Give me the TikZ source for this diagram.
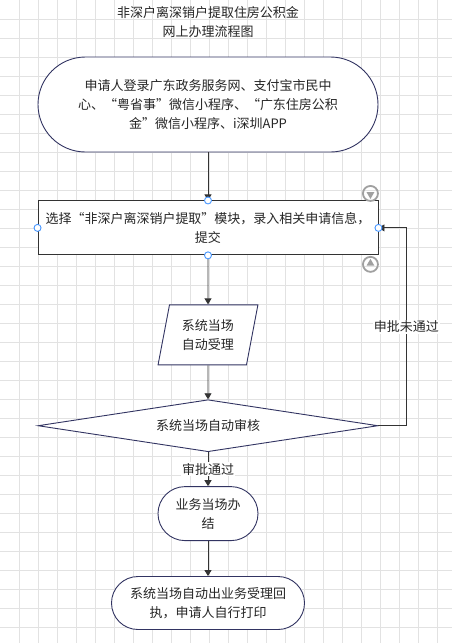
\documentclass[tikz,border=0pt]{standalone}
\usepackage{fontspec}
\setmainfont{Noto Sans CJK SC}
\usetikzlibrary{arrows.meta,shapes.geometric,positioning}
\definecolor{navyline}{RGB}{50,52,98}
\definecolor{boxline}{RGB}{51,51,51}
\definecolor{gridgray}{RGB}{226,226,226}
\definecolor{handleblue}{RGB}{70,150,255}
\definecolor{icongray}{RGB}{160,160,160}
\tikzset{
	every node/.style={
		font=\fontsize{13pt}{19pt}\selectfont,
		text=black!85
	},
	stadium/.style={
		shape=rectangle,
		draw=navyline,
		fill=white,
		align=center,
		inner sep=0pt
	},
	inputbox/.style={
		shape=rectangle,
		draw=boxline,
		fill=white,
		minimum width=340pt,
		minimum height=54pt,
		align=center,
		inner sep=0pt
	},
	iobox/.style={
		shape=trapezium,
		trapezium left angle=76,
		trapezium right angle=104,
		trapezium stretches=true,
		draw=navyline,
		fill=white,
		minimum width=100pt,
		minimum height=60pt,
		align=center,
		inner sep=0pt
	},
	check/.style={
		shape=diamond,
		aspect=6.54,
		draw=navyline,
		fill=white,
		minimum width=340pt,
		minimum height=52pt,
		inner sep=0pt
	},
	handle/.style={
		shape=circle,
		draw=handleblue,
		fill=white,
		line width=0.9pt,
		minimum size=7pt,
		inner sep=0pt
	},
	toggle/.style={
		shape=circle,
		draw=icongray,
		line width=1.8pt,
		minimum size=15pt,
		inner sep=0pt
	},
	tri/.style={
		shape=regular polygon,
		regular polygon sides=3,
		fill=icongray,
		minimum size=9pt,
		inner sep=0pt
	},
	flowarrow/.style={->, draw=boxline, line width=0.9pt},
	edgelabel/.style={fill=white, inner sep=1pt}
}

\begin{document}
\begin{tikzpicture}[x=1pt,y=-1pt,>={Triangle[length=6pt,width=7pt]},node distance=48pt,line width=0.9pt]
	% background and grid
	\fill[white] (0,0) rectangle (452,643);
	\useasboundingbox (0,0) rectangle (452,643);
	\foreach \gx in {1,...,23}
		\draw[gridgray,line width=0.8pt] (\gx*19,0) -- (\gx*19,643);
	\foreach \gy in {1,...,33}
		\draw[gridgray,line width=0.8pt] (0,\gy*19) -- (452,\gy*19);
	
	\node[align=center] (title) at (208,22) {非深户离深销户提取住房公积金\\网上办理流程图};
	
	\node[stadium, minimum width=340pt, minimum height=95pt, rounded corners=47.5pt] (login) at (208,104.5)
		{申请人登录广东政务服务网、支付宝市民中\\心、“粤省事”微信小程序、“广东住房公积\\金”微信小程序、i深圳APP};
	\node[inputbox]      (input)  [below=48pt of login]  {选择“非深户离深销户提取”模块，录入相关申请信息，\\提交};
	\node[iobox]         (accept) [below=49pt of input]  {系统当场\\自动受理};
	\node[check]         (audit)  [below=34pt of accept] {系统当场自动审核};
	\node[stadium, minimum width=100pt, minimum height=54pt, rounded corners=27pt] (done) [below=34pt of audit]
		{业务当场办\\结};
	\node[stadium, minimum width=193pt, minimum height=53pt, rounded corners=26.5pt] (receipt) [below=35pt of done]
		{系统当场自动出业务受理回\\执，申请人自行打印};
	
	\coordinate (back) at ([xshift=28pt]audit.east);
	
	\draw[flowarrow] (login) -- (input);
	\draw[flowarrow] (input) -- (accept);
	\draw[flowarrow] (accept) -- (audit);
	\draw[flowarrow] (audit) -- node[edgelabel] {审批通过} (done);
	\draw[flowarrow] (done) -- (receipt);
	\draw[flowarrow] (audit.east) -- (back) |- node[edgelabel, pos=0.25] {申批未通过} (input.east);
	
	% selection handles
	\node[handle] (hn) at (input.north) {};
	\node[handle] (hs) at (input.south) {};
	\node[handle] (hw) at (input.west) {};
	\node[handle] (he) at (input.east) {};
	\node[toggle] (tdown) at ([xshift=-8pt,yshift=7pt]input.north east) {};
	\node[tri, shape border rotate=180] (tdowntri) at ([yshift=-1pt]tdown.center) {};
	\node[toggle] (tup) at ([xshift=-8pt,yshift=-9pt]input.south east) {};
	\node[tri] (tuptri) at ([yshift=1pt]tup.center) {};
\end{tikzpicture}
\end{document}
